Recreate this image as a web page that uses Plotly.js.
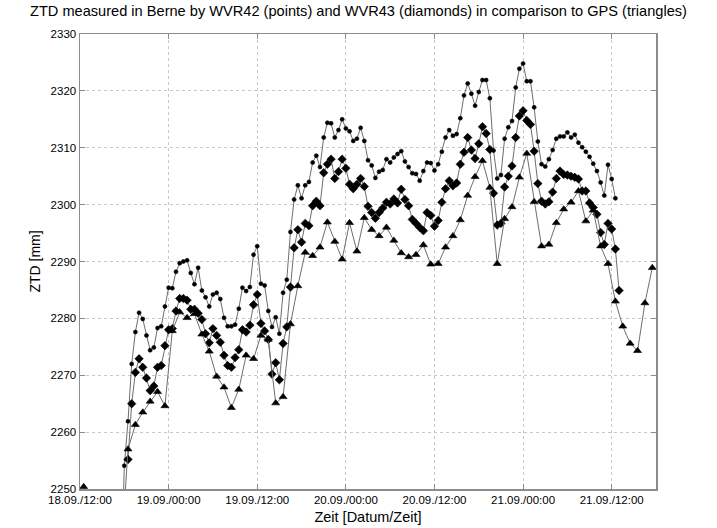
<!DOCTYPE html>
<html>
<head>
<meta charset="utf-8">
<script src="https://cdn.plot.ly/plotly-3.0.1.min.js"></script>
<style>html,body{margin:0;padding:0;background:#fff;}#chart{width:717px;height:528px;}</style>
</head>
<body>
<div id="chart"></div>
<script>
// time in hours since 18.09. 00:00
const tickVals = [12, 24, 36, 48, 60, 72, 84];
const tickText = ['18.09./12:00', '19.09./00:00', '19.09./12:00', '20.09./00:00', '20.09./12:00', '21.09./00:00', '21.09./12:00'];

// WVR42 (points)
const wvr42T = [17.5,18,18.5,19,19.5,20,20.5,21,21.5,22,22.5,23,23.5,24,24.5,25,25.5,26,26.5,27,27.5,28,28.5,29,29.5,30,30.5,31,31.5,32,32.5,33,33.5,34,34.5,35,35.5,36,36.5,37,37.5,38,38.5,39,39.5,40,40.5,41,41.5,42,42.5,43,43.5,44,44.5,45,45.5,46,46.5,47,47.5,48,48.5,49,49.5,50,50.5,51,51.5,52,52.5,53,53.5,54,54.5,55,55.5,56,56.5,57,57.5,58,58.5,59,59.5,60,60.5,61,61.5,62,62.5,63,63.5,64,64.5,65,65.5,66,66.5,67,67.5,68,68.5,69,69.5,70,70.5,71,71.5,72,72.5,73,73.5,74,74.5,75,75.5,76,76.5,77,77.5,78,78.5,79,79.5,80,80.5,81,81.5,82,82.5,83,83.5,84,84.5];
const wvr42 = [2230,2254.1,2261.9,2272.0,2277.6,2281.0,2279.9,2277.0,2274.4,2274.9,2278.3,2278.6,2282.1,2285.4,2285.3,2288.2,2289.7,2290.0,2290.2,2288.0,2286.0,2288.9,2284.9,2283.7,2282.1,2284.2,2284.5,2283.4,2280.1,2278.6,2278.6,2278.9,2281.7,2285.4,2284.8,2285.5,2291.2,2292.7,2286.1,2285.8,2281.3,2278.5,2280.2,2277.3,2284.5,2286.8,2295.2,2300.9,2303.4,2301.1,2303.4,2304.0,2307.4,2308.6,2306.6,2311.8,2314.4,2314.3,2311.8,2313.1,2315.0,2313.4,2312.9,2311.2,2311.6,2313.5,2311.2,2307.8,2306.9,2304.7,2305.8,2306.1,2308.0,2307.4,2308.3,2308.9,2309.4,2307.6,2306.6,2305.5,2305.4,2304.2,2305.9,2307.4,2307.3,2306.0,2307.1,2309.3,2311.8,2313.1,2312.1,2312.4,2315.2,2319.2,2321.3,2319.5,2317.4,2319.8,2321.9,2321.9,2318.7,2309.5,2304.6,2305.2,2311.6,2313.6,2314.7,2320.6,2323.9,2324.8,2321.7,2321.7,2317.1,2311.1,2307.1,2306.7,2308.0,2309.6,2311.6,2312.0,2312.0,2312.7,2311.8,2312.3,2310.9,2310.1,2309.3,2308.4,2307.2,2305.9,2303.9,2301.6,2307.0,2304.5,2301.1];

// WVR43 (diamonds)
const wvr43T = [18.5,19,19.5,20,20.5,21,21.5,22,22.5,23,23.5,24,24.5,25,25.5,26,26.5,27,27.5,28,28.5,29,29.5,30,30.5,31,31.5,32,32.5,33,33.5,34,34.5,35,35.5,36,36.5,37,37.5,38,38.5,39,39.5,40,40.5,41,41.5,42,42.5,43,43.5,44,44.5,45,45.5,46,46.5,47,47.5,48,48.5,49,49.5,50,50.5,51,51.5,52,52.5,53,53.5,54,54.5,55,55.5,56,56.5,57,57.5,58,58.5,59,59.5,60,60.5,61,61.5,62,62.5,63,63.5,64,64.5,65,65.5,66,66.5,67,67.5,68,68.5,69,69.5,70,70.5,71,71.5,72,72.5,73,73.5,74,74.5,75,75.5,76,76.5,77,77.5,78,78.5,79,79.5,80,80.5,81,81.5,82,82.5,83,83.5,84,84.5,85];
const wvr43 = [2255.2,2265.0,2270.5,2272.9,2271.4,2269.5,2267.3,2268.1,2271.4,2271.7,2275.2,2278.0,2278.2,2281.3,2283.5,2283.5,2283.2,2281.6,2281.6,2280.9,2279.8,2277.3,2275.7,2278.2,2277.0,2275.8,2273.5,2271.7,2271.4,2273.1,2274.5,2278.0,2277.6,2278.8,2282.4,2284.2,2279.1,2277.8,2276.3,2270.2,2272.2,2269.2,2275.6,2278.5,2285.5,2292.4,2295.6,2293.4,2296.7,2296.3,2299.8,2300.6,2299.8,2305.6,2307.1,2308.0,2304.6,2305.8,2308.0,2306.4,2303.6,2302.8,2303.6,2304.6,2303.2,2299.7,2298.6,2297.6,2298.6,2299.4,2300.4,2300.1,2301.0,2300.3,2302.7,2300.9,2299.8,2297.4,2296.7,2296.0,2295.4,2298.6,2298.1,2296.2,2297.2,2300.4,2302.8,2304.2,2303.3,2303.8,2307.1,2309.2,2311.8,2309.6,2308.1,2310.7,2313.7,2312.5,2309.7,2302.0,2296.4,2296.7,2303.1,2305.0,2306.8,2311.8,2315.6,2316.5,2314.8,2314.1,2309.4,2303.7,2300.6,2300.1,2300.5,2302.2,2304.6,2305.9,2305.3,2305.2,2305.0,2304.8,2304.5,2302.4,2302.4,2300.3,2299.5,2298.3,2295.1,2293.0,2296.7,2295.7,2292.2,2284.9];

// GPS (triangles)
const gpsT = [12.5,17.5,18.5,19.5,20.5,21.5,22.5,23.5,24.5,25.5,26.5,27.5,28.5,29.5,30.5,31.5,32.5,33.5,34.5,35.5,36.5,37.5,38.5,39.5,40.5,41.5,42.5,43.5,44.5,45.5,46.5,47.5,48.5,49.5,50.5,51.5,52.5,53.5,54.5,55.5,56.5,57.5,58.5,59.5,60.5,61.5,62.5,63.5,64.5,65.5,66.5,67.5,68.5,69.5,70.5,71.5,72.5,73.5,74.5,75.5,76.5,77.5,78.5,79.5,80.5,81.5,82.5,83.5,84.5,85.5,86.5,87.5,88.5,89.5];
const gps = [2250.4,2236.6,2257.0,2261.3,2263.5,2265.4,2267.1,2264.6,2277.8,2281.1,2280.1,2280.8,2277.2,2274.2,2269.8,2267.9,2264.3,2267.5,2273.5,2272.9,2277.0,2276.3,2265.1,2266.2,2279.0,2285.7,2291.6,2291.0,2292.5,2296.9,2293.5,2290.4,2296.8,2291.8,2297.7,2295.6,2294.5,2296.0,2293.7,2291.5,2290.8,2291.2,2292.9,2289.5,2289.6,2292.5,2294.5,2297.3,2301.6,2304.9,2307.7,2303.0,2289.6,2297.5,2299.6,2304.8,2309.0,2300.5,2292.7,2293.0,2296.8,2299.2,2300.4,2302.4,2297.1,2299.0,2292.7,2289.6,2283.0,2278.6,2275.6,2274.3,2282.7,2288.9];

const xRange = [12, 90];
const yRange = [2250, 2330];
const lineCol = '#6e6e6e';

function sizes(arr, s) { return arr.map(v => (v < yRange[0] ? 0 : s)); }

function trace(x, y, name, symbol, size) {
  return {x: x, y: y, name: name, type: 'scatter', mode: 'lines+markers', cliponaxis: false, opacity: 1,
    line: {color: lineCol, width: 1},
    marker: {symbol: symbol, size: sizes(y, size), color: '#000', opacity: 1, line: {color: '#000', width: 0.6}}};
}

const traces = [
  trace(wvr42T, wvr42, 'WVR42', 'circle', 4),
  trace(wvr43T, wvr43, 'WVR43', 'diamond', 6.5),
  trace(gpsT, gps, 'GPS', 'triangle-up', 7)
];

const axisCommon = {
  showline: true, mirror: 'ticks', linecolor: '#8c8c8c', linewidth: 1.5,
  ticks: 'inside', ticklen: 5, tickcolor: '#8c8c8c',
  showgrid: true, gridcolor: '#c8c8c8', griddash: 'dot', gridwidth: 1,
  zeroline: false, tickfont: {size: 11.5, color: '#000', family: 'Liberation Sans, Arial, sans-serif'}
};

const layout = {
  width: 717, height: 528,
  margin: {l: 80, r: 61, t: 34, b: 39},
  paper_bgcolor: '#fff', plot_bgcolor: '#fff',
  showlegend: false,
  font: {family: 'Liberation Sans, Arial, sans-serif', color: '#000'},
  title: {text: 'ZTD measured in Berne by WVR42 (points) and WVR43 (diamonds) in comparison to GPS (triangles)',
          font: {size: 14.6, color: '#000'}, x: 0.5, xanchor: 'center', y: 0.99, yanchor: 'top'},
  xaxis: Object.assign({}, axisCommon, {range: xRange, tickmode: 'array', tickvals: tickVals, ticktext: tickText,
          title: {text: 'Zeit [Datum/Zeit]', font: {size: 14.5}, standoff: 6}}),
  yaxis: Object.assign({}, axisCommon, {range: yRange, dtick: 10, tick0: 2250,
          title: {text: 'ZTD [mm]', font: {size: 14}, standoff: 6}})
};

Plotly.newPlot('chart', traces, layout, {displayModeBar: false, staticPlot: true});
</script>
</body>
</html>
